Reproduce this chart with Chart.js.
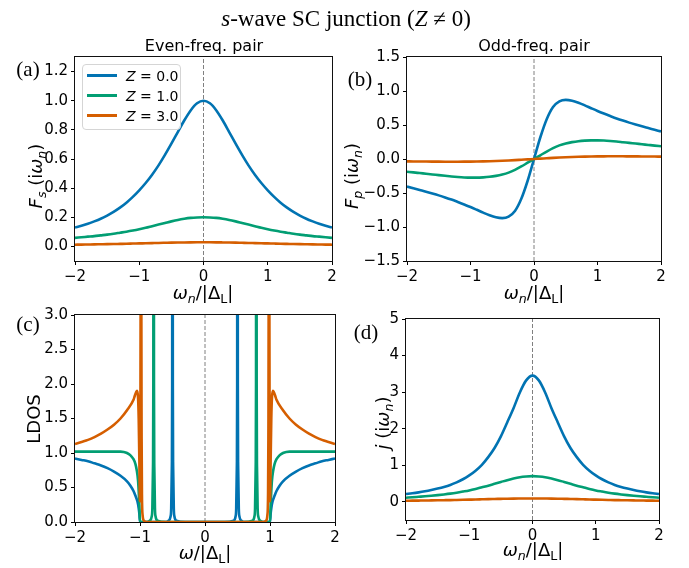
<!DOCTYPE html>
<html>
<head>
<meta charset="utf-8">
<script src="https://cdn.jsdelivr.net/npm/chart.js@4.4.1/dist/chart.umd.min.js"></script>
<style>
  body { margin: 0; background: #fff; }
  #page { position: relative; width: 689px; height: 568px; overflow: hidden; font-family: "DejaVu Sans", sans-serif; color: #000; }
  canvas { position: absolute; left: 0; top: 0; }
  .t { position: absolute; white-space: nowrap; line-height: 1; transform: translate(-50%, -50%); }
  .rot { transform: translate(-50%, -50%) rotate(-90deg); }
  .serif { font-family: "Liberation Serif", serif; }
  sub { font-size: 70%; vertical-align: -0.3em; line-height: 0; }
  #legend { position: absolute; left: 82px; top: 64px; width: 97px; height: 64px; border: 1px solid #d5d5d5; border-radius: 4px; background: rgba(255,255,255,0.8); }
  .lg-line { position: absolute; left: 4px; width: 30px; height: 3px; }
  .lg-text { position: absolute; left: 43px; font-size: 14px; line-height: 1; transform: translateY(-50%); white-space: nowrap; }
</style>
</head>
<body>
<div id="page">
  <canvas id="ca" width="689" height="568"></canvas>
  <canvas id="cb" width="689" height="568"></canvas>
  <canvas id="cc" width="689" height="568"></canvas>
  <canvas id="cd" width="689" height="568"></canvas>

  <div class="t serif" style="left:346px;top:18px;font-size:23px"><i>s</i>-wave SC junction (<i>Z</i> ≠ 0)</div>
  <div class="t" style="left:204px;top:46px;font-size:16px">Even-freq. pair</div>
  <div class="t" style="left:534px;top:46px;font-size:16px">Odd-freq. pair</div>

  <div class="t serif" style="left:28px;top:69px;font-size:21px">(a)</div>
  <div class="t serif" style="left:360px;top:79px;font-size:21px">(b)</div>
  <div class="t serif" style="left:28px;top:324px;font-size:21px">(c)</div>
  <div class="t serif" style="left:366px;top:332px;font-size:21px">(d)</div>

  <div class="t" style="left:203px;top:293px;font-size:18px"><i>ω</i><sub><i>n</i></sub>/|Δ<sub>L</sub>|</div>
  <div class="t" style="left:534px;top:293px;font-size:18px"><i>ω</i><sub><i>n</i></sub>/|Δ<sub>L</sub>|</div>
  <div class="t" style="left:205px;top:553px;font-size:18px"><i>ω</i>/|Δ<sub>L</sub>|</div>
  <div class="t" style="left:533px;top:550px;font-size:18px"><i>ω</i><sub><i>n</i></sub>/|Δ<sub>L</sub>|</div>

  <div class="t rot" style="left:36px;top:176px;font-size:18px"><i>F</i><sub><i>s</i></sub> (i<i>ω</i><sub><i>n</i></sub>)</div>
  <div class="t rot" style="left:352px;top:176px;font-size:18px"><i>F</i><sub><i>p</i></sub> (i<i>ω</i><sub><i>n</i></sub>)</div>
  <div class="t rot" style="left:34px;top:419px;font-size:18px">LDOS</div>
  <div class="t rot" style="left:383px;top:423px;font-size:18px"><i>j</i> (i<i>ω</i><sub><i>n</i></sub>)</div>

  <div id="legend">
    <div class="lg-line" style="top:9px;background:#0173B2"></div>
    <div class="lg-text" style="top:11px"><i>Z</i> = 0.0</div>
    <div class="lg-line" style="top:29px;background:#029E73"></div>
    <div class="lg-text" style="top:31px"><i>Z</i> = 1.0</div>
    <div class="lg-line" style="top:49px;background:#D55E00"></div>
    <div class="lg-text" style="top:51px"><i>Z</i> = 3.0</div>
  </div>
</div>

<script>
// Matsubara frequency grid for panels (a), (b), (d)
const omega = [-2.0,-1.9,-1.8,-1.7,-1.6,-1.5,-1.4,-1.3,-1.2,-1.1,-1.0,-0.9,-0.8,-0.7,-0.6,-0.5,-0.4,-0.3,-0.2,-0.1,0.0,
               0.1,0.2,0.3,0.4,0.5,0.6,0.7,0.8,0.9,1.0,1.1,1.2,1.3,1.4,1.5,1.6,1.7,1.8,1.9,2.0];

// (a) even-frequency pair amplitude
const fsZ0 = [0.13,0.142,0.156,0.172,0.19,0.212,0.237,0.266,0.30,0.34,0.385,0.435,0.492,0.556,0.628,0.705,0.785,0.864,0.933,0.982,1.0,
              0.982,0.933,0.864,0.785,0.705,0.628,0.556,0.492,0.435,0.385,0.34,0.30,0.266,0.237,0.212,0.19,0.172,0.156,0.142,0.13];
const fsZ1 = [0.059,0.063,0.067,0.071,0.076,0.081,0.087,0.094,0.101,0.109,0.118,0.128,0.139,0.150,0.161,0.172,0.182,0.190,0.196,0.199,0.200,
              0.199,0.196,0.190,0.182,0.172,0.161,0.150,0.139,0.128,0.118,0.109,0.101,0.094,0.087,0.081,0.076,0.071,0.067,0.063,0.059];
const fsZ3 = [0.012,0.0126,0.0133,0.014,0.0148,0.0156,0.0165,0.0175,0.0185,0.0196,0.0207,0.0218,0.0229,0.024,0.025,0.026,0.0268,0.0274,0.0279,0.0282,0.0283,
              0.0282,0.0279,0.0274,0.0268,0.026,0.025,0.024,0.0229,0.0218,0.0207,0.0196,0.0185,0.0175,0.0165,0.0156,0.0148,0.014,0.0133,0.0126,0.012];

// (b) odd-frequency pair amplitude
const fpZ0 = [-0.405,-0.43,-0.455,-0.48,-0.507,-0.535,-0.565,-0.597,-0.632,-0.668,-0.706,-0.747,-0.789,-0.828,-0.858,-0.87,-0.848,-0.765,-0.585,-0.32,0,
              0.32,0.585,0.765,0.848,0.87,0.858,0.828,0.789,0.747,0.706,0.668,0.632,0.597,0.565,0.535,0.507,0.48,0.455,0.43,0.405];
const fpZ1 = [-0.188,-0.197,-0.207,-0.217,-0.227,-0.237,-0.247,-0.257,-0.265,-0.271,-0.274,-0.274,-0.27,-0.262,-0.248,-0.228,-0.20,-0.16,-0.11,-0.055,0,
              0.055,0.11,0.16,0.20,0.228,0.248,0.262,0.27,0.274,0.274,0.271,0.265,0.257,0.247,0.237,0.227,0.217,0.207,0.197,0.188];
const fpZ3 = [-0.0347,-0.0358,-0.0368,-0.0377,-0.0385,-0.0391,-0.0395,-0.0397,-0.0396,-0.0392,-0.0385,-0.0373,-0.0355,-0.033,-0.0298,-0.026,-0.0215,-0.0165,-0.011,-0.0055,0,
              0.0055,0.011,0.0165,0.0215,0.026,0.0298,0.033,0.0355,0.0373,0.0385,0.0392,0.0396,0.0397,0.0395,0.0391,0.0385,0.0377,0.0368,0.0358,0.0347];

// (d) current
const jZ0 = [0.21,0.23,0.255,0.285,0.32,0.36,0.405,0.46,0.53,0.615,0.72,0.85,1.01,1.22,1.47,1.79,2.17,2.56,2.99,3.32,3.45,
             3.32,2.99,2.56,2.17,1.79,1.47,1.22,1.01,0.85,0.72,0.615,0.53,0.46,0.405,0.36,0.32,0.285,0.255,0.23,0.21];
const jZ1 = [0.11,0.122,0.135,0.148,0.163,0.18,0.20,0.222,0.248,0.278,0.31,0.35,0.395,0.44,0.49,0.54,0.59,0.635,0.67,0.69,0.70,
             0.69,0.67,0.635,0.59,0.54,0.49,0.44,0.395,0.35,0.31,0.278,0.248,0.222,0.20,0.18,0.163,0.148,0.135,0.122,0.11];
const jZ3 = [0.027,0.029,0.031,0.033,0.036,0.039,0.042,0.045,0.049,0.053,0.057,0.061,0.066,0.071,0.075,0.079,0.083,0.086,0.088,0.0895,0.09,
             0.0895,0.088,0.086,0.083,0.079,0.075,0.071,0.066,0.061,0.057,0.053,0.049,0.045,0.042,0.039,0.036,0.033,0.031,0.029,0.027];

// (c) local density of states, real frequency
const ldosOmegaZ0 = [-2,-1.9,-1.8,-1.7,-1.6,-1.5,-1.4,-1.3,-1.2,-1.15,-1.1,-1.07,-1.04,-1.02,-1.01,-1.0,-0.9,-0.6,
  -0.56,-0.53,-0.52,-0.51,-0.505,-0.5,-0.495,-0.49,-0.48,-0.47,-0.44,-0.3,0,0.3,
  0.44,0.47,0.48,0.49,0.495,0.5,0.505,0.51,0.52,0.53,0.56,0.6,0.9,
  1.0,1.01,1.02,1.04,1.07,1.1,1.15,1.2,1.3,1.4,1.5,1.6,1.7,1.8,1.9,2];
const ldosZ0 = [0.92,0.90,0.88,0.85,0.82,0.78,0.73,0.67,0.59,0.53,0.45,0.38,0.30,0.20,0.12,0,0,0,
  0.02,0.08,0.2,0.8,2.0,12,2.0,0.8,0.2,0.08,0.02,0,0,0,
  0.02,0.08,0.2,0.8,2.0,12,2.0,0.8,0.2,0.08,0.02,0,0,
  0,0.12,0.20,0.30,0.38,0.45,0.53,0.59,0.67,0.73,0.78,0.82,0.85,0.88,0.90,0.92];

const ldosOmegaZ1 = [-2,-1.5,-1.3,-1.25,-1.2,-1.15,-1.1,-1.07,-1.05,-1.03,-1.02,-1.01,-1.0,-0.9,
  -0.85,-0.82,-0.81,-0.8,-0.795,-0.79,-0.785,-0.78,-0.77,-0.76,-0.73,-0.6,0,0.6,
  0.73,0.76,0.77,0.78,0.785,0.79,0.795,0.8,0.81,0.82,0.85,0.9,
  1.0,1.01,1.02,1.03,1.05,1.07,1.1,1.15,1.2,1.25,1.3,1.5,2];
const ldosZ1 = [1.02,1.02,1.02,1.015,1.0,0.97,0.91,0.84,0.75,0.6,0.45,0.25,0,0,
  0.02,0.08,0.2,0.8,2.0,12,2.0,0.8,0.2,0.08,0.02,0,0,0,
  0.02,0.08,0.2,0.8,2.0,12,2.0,0.8,0.2,0.08,0.02,0,
  0,0.25,0.45,0.6,0.75,0.84,0.91,0.97,1.0,1.015,1.02,1.02,1.02];

const ldosOmegaZ3 = [-2,-1.9,-1.8,-1.7,-1.6,-1.5,-1.4,-1.3,-1.2,-1.1,
  -1.08,-1.06,-1.045,-1.03,-1.02,-1.01,-1.005,-1.0,
  -0.995,-0.99,-0.985,-0.98,-0.975,-0.97,-0.96,-0.94,-0.9,0,
  0.9,0.94,0.96,0.97,0.975,0.98,0.985,0.99,0.995,
  1.0,1.005,1.01,1.02,1.03,1.045,1.06,1.08,
  1.1,1.2,1.3,1.4,1.5,1.6,1.7,1.8,1.9,2];
const ldosZ3 = [1.13,1.16,1.19,1.23,1.28,1.34,1.41,1.50,1.62,1.77,
  1.83,1.88,1.9,1.8,1.5,0.9,0.5,0.3,
  1.0,3.5,12,3.5,1.2,0.4,0.1,0.02,0,0,
  0,0.02,0.1,0.4,1.2,3.5,12,3.5,1.0,
  0.3,0.5,0.9,1.5,1.8,1.9,1.88,1.83,
  1.77,1.62,1.50,1.41,1.34,1.28,1.23,1.19,1.16,1.13];

// tick labels
const xTicks = [-2, -1, 0, 1, 2];
const aTicksY = [0.0, 0.2, 0.4, 0.6, 0.8, 1.0, 1.2];
const bTicksY = [-1.5, -1.0, -0.5, 0.0, 0.5, 1.0, 1.5];
const cTicksY = [0.0, 0.5, 1.0, 1.5, 2.0, 2.5, 3.0];
const dTicksY = [0, 1, 2, 3, 4, 5];

const colors = ['#0173B2', '#029E73', '#D55E00'];
const W = 689, H = 568, YW = 50, XH = 30;

function pts(xs, ys) {
  return xs.map((x, i) => ({ x: x, y: ys[i] }));
}

function fmt(v, digits) {
  return v.toFixed(digits).replace('-', '\u2212');
}

// box round the whole plot area, like matplotlib spines
const frame = {
  id: 'frame',
  afterDraw(chart) {
    const a = chart.chartArea, c = chart.ctx;
    const l = Math.round(a.left), t = Math.round(a.top);
    const r = Math.round(a.right), b = Math.round(a.bottom);
    c.save();
    c.strokeStyle = '#111';
    c.lineWidth = 1;
    c.strokeRect(l - 0.5, t - 0.5, r - l + 1, b - t + 1);
    c.restore();
  }
};

function panel(id, box, yMin, yMax, yTicks, yDigits, series) {
  const datasets = series.map((s, i) => ({
    data: s,
    borderColor: colors[i],
    borderWidth: 2.6,
    pointRadius: 0,
    fill: false,
    cubicInterpolationMode: 'monotone',
    clip: 0,
    order: 3 - i
  }));
  datasets.push({
    data: [{ x: 0, y: yMin }, { x: 0, y: yMax }],
    borderColor: '#808080',
    borderWidth: 1,
    borderDash: [4, 2],
    pointRadius: 0,
    order: 10
  });
  const tickFont = { family: 'DejaVu Sans', size: 15 };
  new Chart(document.getElementById(id), {
    type: 'line',
    data: { datasets: datasets },
    options: {
      responsive: false,
      animation: false,
      events: [],
      layout: { padding: { left: box.l - YW, top: box.t, right: W - box.r, bottom: H - box.b - XH } },
      plugins: { legend: { display: false }, tooltip: { enabled: false } },
      scales: {
        x: {
          type: 'linear', min: -2, max: 2,
          afterFit(s) { s.height = XH; },
          afterBuildTicks(s) { s.ticks = xTicks.map(v => ({ value: v })); },
          grid: { drawOnChartArea: false, drawTicks: true, tickLength: 4, color: '#000' },
          border: { display: false },
          ticks: { font: tickFont, color: '#000', padding: 3, maxRotation: 0, autoSkip: false,
                   callback: v => fmt(v, 0) }
        },
        y: {
          type: 'linear', min: yMin, max: yMax,
          afterFit(s) { s.width = YW; },
          afterBuildTicks(s) { s.ticks = yTicks.map(v => ({ value: v })); },
          grid: { drawOnChartArea: false, drawTicks: true, tickLength: 4, color: '#000' },
          border: { display: false },
          ticks: { font: tickFont, color: '#000', padding: 3, autoSkip: false,
                   callback: v => fmt(v, yDigits) }
        }
      }
    },
    plugins: [frame]
  });
}

panel('ca', { l: 75, r: 332, t: 57, b: 261 }, -0.1, 1.3, aTicksY, 1,
      [pts(omega, fsZ0), pts(omega, fsZ1), pts(omega, fsZ3)]);
panel('cb', { l: 407, r: 661, t: 57, b: 261 }, -1.5, 1.5, bTicksY, 1,
      [pts(omega, fpZ0), pts(omega, fpZ1), pts(omega, fpZ3)]);
panel('cc', { l: 75, r: 335, t: 315, b: 522 }, 0, 3, cTicksY, 1,
      [pts(ldosOmegaZ0, ldosZ0), pts(ldosOmegaZ1, ldosZ1), pts(ldosOmegaZ3, ldosZ3)]);
panel('cd', { l: 406, r: 659, t: 319, b: 520 }, -0.5, 5, dTicksY, 0,
      [pts(omega, jZ0), pts(omega, jZ1), pts(omega, jZ3)]);
</script>
</body>
</html>
